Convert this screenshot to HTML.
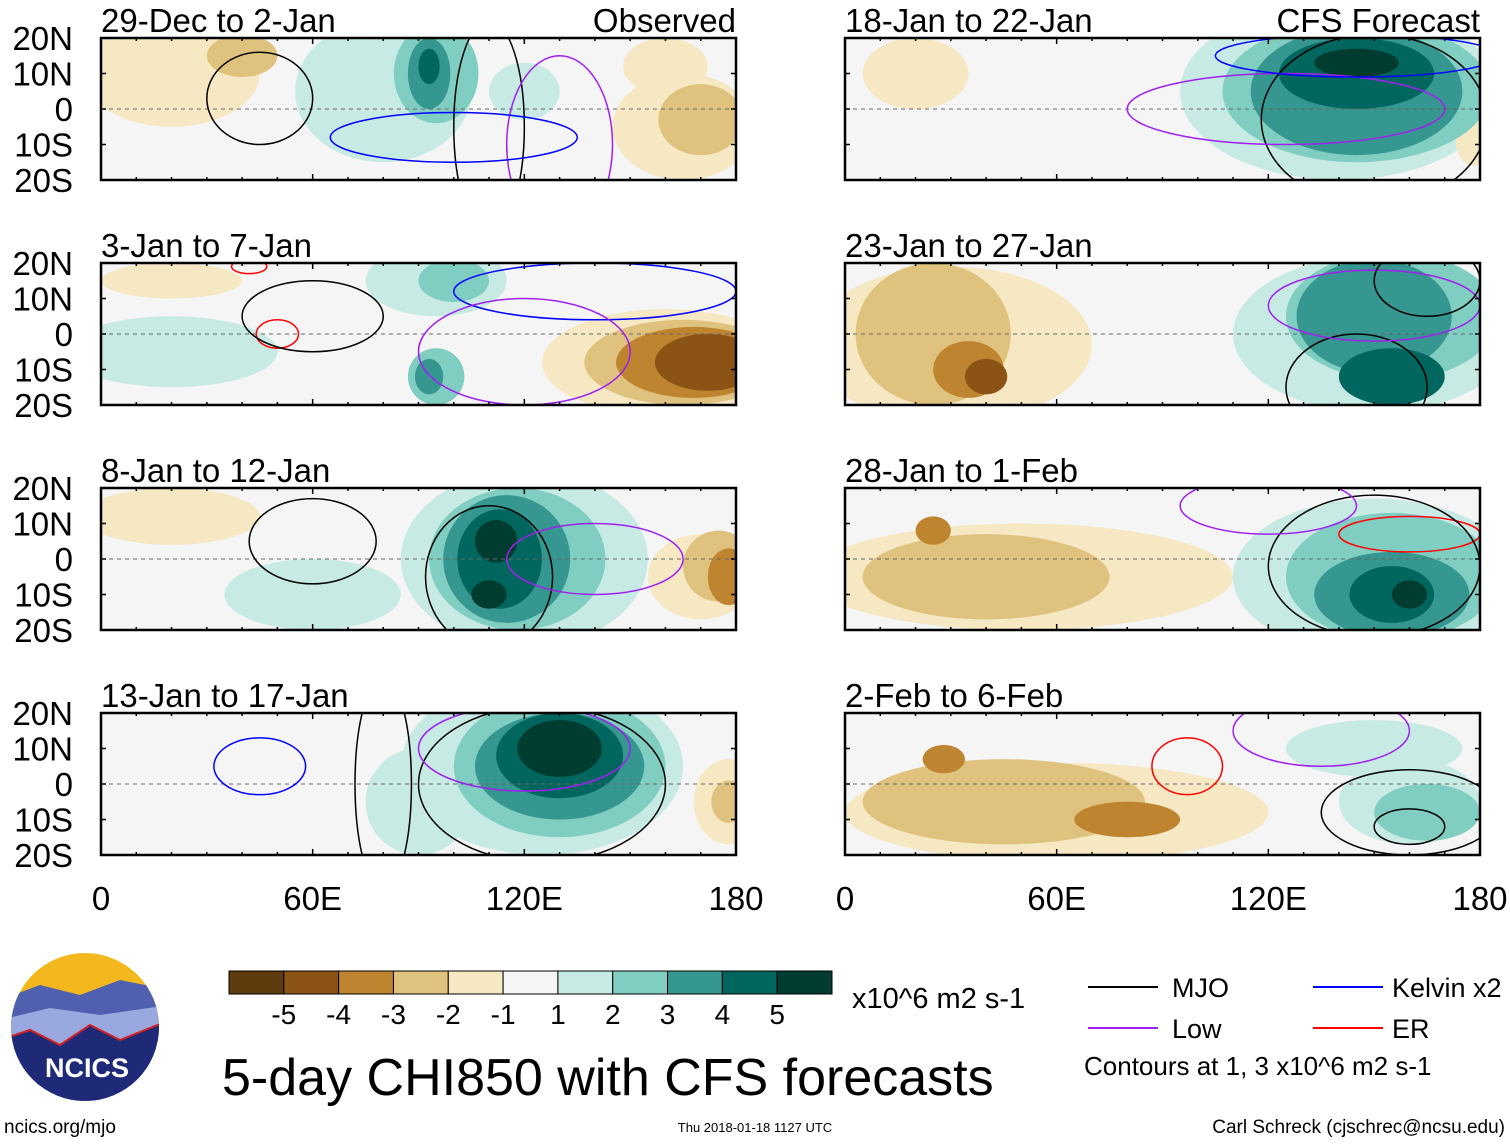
<!DOCTYPE html>
<html><head><meta charset="utf-8">
<style>
body{margin:0;background:#fff;width:1510px;height:1142px;overflow:hidden;font-family:"Liberation Sans",sans-serif}
svg text{font-family:"Liberation Sans",sans-serif}
</style></head>
<body>
<svg id="chart" width="1510" height="1142" xmlns="http://www.w3.org/2000/svg"></svg>
<script>
const titles=["29-Dec to 2-Jan","18-Jan to 22-Jan","3-Jan to 7-Jan","23-Jan to 27-Jan","8-Jan to 12-Jan","28-Jan to 1-Feb","13-Jan to 17-Jan","2-Feb to 6-Feb"];
const levels=[-5,-4,-3,-2,-1,0,1,2,3,4,5];
const levelColors=["#5e3c0e","#8c5414","#bf8430","#dfc27d","#f6e8c3","#f5f5f5","#c7eae5","#80cdc1","#35978f","#01665e","#003c30"];
const colorbarLabels=["-5","-4","-3","-2","-1","1","2","3","4","5"];
const xTicks=[0,60,120,180];
const xTickLabels=["0","60E","120E","180"];
const yTicks=[20,10,0,-10,-20];
const yTickLabels=["20N","10N","0","10S","20S"];
// blobs: [lon, lat, rlon, rlat, level]
const blobs0=[[20,10,25,15,-1],[40,15,10,6,-2],[80,5,25,20,1],[95,10,12,14,2],[93,10,6,10,3],[93,12,3,5,4],[120,5,10,8,1],[165,-5,20,15,-1],[170,-3,12,10,-2],[160,12,12,8,-1]];
const blobs1=[[140,5,45,25,1],[145,5,38,20,2],[145,5,30,18,3],[145,10,22,10,4],[145,13,12,4,5],[20,10,15,10,-1],[178,-8,5,8,-1]];
const blobs2=[[95,15,20,10,1],[100,15,10,6,2],[95,-12,8,8,2],[93,-12,4,5,3],[20,-5,30,10,1],[160,-8,35,15,-1],[165,-8,28,12,-2],[168,-8,22,10,-3],[172,-8,15,8,-4],[20,15,20,5,-1]];
const blobs3=[[30,-3,40,22,-1],[25,0,22,20,-2],[35,-10,10,8,-3],[40,-12,6,5,-4],[150,0,40,22,1],[155,5,30,18,2],[150,5,22,16,3],[155,-12,15,8,4]];
const blobs4=[[20,12,25,8,-1],[120,0,35,25,1],[118,0,25,20,2],[115,0,18,18,3],[113,0,12,14,4],[112,5,6,6,5],[110,-10,5,4,5],[170,-5,15,12,-1],[175,-2,10,10,-2],[178,-5,6,8,-3],[60,-10,25,10,1]];
const blobs5=[[50,-5,60,15,-1],[40,-5,35,12,-2],[25,8,5,4,-3],[150,-5,40,22,1],[155,-5,30,18,2],[155,-10,22,12,3],[155,-10,12,8,4],[160,-10,5,4,5]];
const blobs6=[[125,5,40,25,1],[130,5,30,20,2],[130,5,24,15,3],[130,8,18,12,4],[130,10,12,8,5],[178,-5,10,12,-1],[178,-5,5,6,-2],[90,-5,15,15,1]];
const blobs7=[[60,-8,60,14,-1],[45,-5,40,12,-2],[80,-10,15,5,-3],[28,7,6,4,-3],[150,10,25,8,1],[160,-5,20,12,1],[165,-8,15,8,2]];
// contours: [type, lon, lat, rlon, rlat]
const cont0=[["m",45,3,15,13],["m",110,-5,10,30],["l",130,-10,15,25],["k",100,-8,35,7]];
const cont1=[["m",150,-3,32,24],["l",125,0,45,10],["k",145,15,40,6]];
const cont2=[["e",50,0,6,4],["e",42,19,5,2],["m",60,5,20,10],["k",140,12,40,8],["l",120,-5,30,15]];
const cont3=[["m",145,-15,20,15],["l",150,8,30,10],["m",165,15,15,10]];
const cont4=[["m",110,-5,18,20],["m",60,5,18,12],["l",140,0,25,10]];
const cont5=[["e",160,7,20,5],["m",150,-2,30,20],["l",120,15,25,8]];
const cont6=[["k",45,5,13,8],["m",125,0,35,22],["l",120,10,30,12],["m",80,0,8,30]];
const cont7=[["e",97,5,10,8],["l",135,15,25,10],["m",160,-8,25,12],["m",160,-12,10,5]];
const allBlobs=[blobs0,blobs1,blobs2,blobs3,blobs4,blobs5,blobs6,blobs7];
const allCont=[cont0,cont1,cont2,cont3,cont4,cont5,cont6,cont7];
const contColors={m:"#000",l:"#a020f0",k:"#0000ff",e:"#ff0000"};

const NS="http://www.w3.org/2000/svg";
const svg=document.getElementById('chart');
function mk(tag,attrs,parent){const e=document.createElementNS(NS,tag);for(const k in attrs)e.setAttribute(k,attrs[k]);(parent||svg).appendChild(e);return e;}
const PW=635,PH=142;
const colX=[101,845],rowY=[38,263,488,713];
for(let p=0;p<8;p++){
  const x0=colX[p%2],y0=rowY[Math.floor(p/2)];
  const xs=lon=>x0+lon*PW/180, ys=lat=>y0+(20-lat)*PH/40;
  const g=mk('g',{});
  
  
  mk('clipPath',{id:'c'+p},g);
  mk('rect',{x:x0,y:y0,width:PW,height:PH},g.lastChild);
  mk('rect',{x:x0,y:y0,width:PW,height:PH,fill:levelColors[5]},g);
  const inner=mk('g',{'clip-path':'url(#c'+p+')'},g);
  const sorted=allBlobs[p].slice().sort((a,b)=>Math.abs(a[4])-Math.abs(b[4]));
  sorted.forEach(b=>{
    const e=mk('ellipse',{cx:xs(b[0]),cy:ys(b[1]),rx:b[2]*PW/180,ry:b[3]*PH/40,fill:levelColors[levels.indexOf(b[4])]},inner);
    
    
  });
  mk('line',{x1:x0,x2:x0+PW,y1:ys(0),y2:ys(0),stroke:'#666','stroke-dasharray':'4,4','stroke-width':1},inner);
  allCont[p].forEach(c=>{
    const e=mk('ellipse',{cx:xs(c[1]),cy:ys(c[2]),rx:c[3]*PW/180,ry:c[4]*PH/40,fill:'none',stroke:contColors[c[0]],'stroke-width':1.5},inner);
    
    
  });
  mk('rect',{x:x0,y:y0,width:PW,height:PH,fill:'none',stroke:'#000','stroke-width':2.5},g);
  for(let lon=0;lon<=180;lon+=10){const t=lon%60==0?6:3;mk('line',{x1:xs(lon),x2:xs(lon),y1:y0,y2:y0+t,stroke:'#000','stroke-width':1.5},g);mk('line',{x1:xs(lon),x2:xs(lon),y1:y0+PH,y2:y0+PH-t,stroke:'#000','stroke-width':1.5},g);}
  for(let lat=-20;lat<=20;lat+=10){mk('line',{x1:x0,x2:x0+5,y1:ys(lat),y2:ys(lat),stroke:'#000','stroke-width':1.5},g);mk('line',{x1:x0+PW,x2:x0+PW-5,y1:ys(lat),y2:ys(lat),stroke:'#000','stroke-width':1.5},g);}
  const t=mk('text',{x:x0,y:y0-6,'font-size':33},g);t.textContent=titles[p];
  
  if(p<2){const r=mk('text',{x:x0+PW,y:y0-6,'font-size':33,'text-anchor':'end'},g);r.textContent=p==0?"Observed":"CFS Forecast";}
  if(p%2==0){yTicks.forEach((lat,i)=>{const l=mk('text',{x:73,y:ys(lat)+12,'font-size':33,'text-anchor':'end'},g);l.textContent=yTickLabels[i];});}
  if(p>=6){xTicks.forEach((lon,i)=>{const l=mk('text',{x:xs(lon),y:910,'font-size':33,'text-anchor':'middle'},g);l.textContent=xTickLabels[i];});}
}
// colorbar
const cb=mk('g',{});
const bw=603/11;
levelColors.forEach((c,i)=>mk('rect',{x:229+i*bw,y:971,width:bw,height:23,fill:c,stroke:'#000','stroke-width':1},cb));
colorbarLabels.forEach((s,i)=>{const t=mk('text',{x:229+(i+1)*bw,y:1024,'font-size':28,'text-anchor':'middle'},cb);t.textContent=s;});
const u=mk('text',{x:852,y:1008,'font-size':29},cb);u.textContent="x10^6 m2 s-1";
// legend
const lg=mk('g',{});
[["MJO","#000",1088,1172,987],["Low","#a020f0",1088,1172,1028],["Kelvin x2","#0000ff",1313,1392,987],["ER","#ff0000",1313,1392,1028]].forEach(a=>{
  mk('line',{x1:a[2],x2:a[2]+70,y1:a[4],y2:a[4],stroke:a[1],'stroke-width':2},lg);
  const t=mk('text',{x:a[3],y:a[4]+10,'font-size':27},lg);t.textContent=a[0];
});
const ct=mk('text',{x:1084,y:1075,'font-size':26},lg);ct.textContent="Contours at 1, 3 x10^6 m2 s-1";
// logo
const lo=mk('g',{});
mk('clipPath',{id:'lc'},lo);mk('circle',{cx:85,cy:1027,r:74},lo.lastChild);
const li=mk('g',{'clip-path':'url(#lc)'},lo);
mk('rect',{x:0,y:950,width:170,height:60,fill:'#f2b81d'},li);
mk('path',{d:'M0 1000 L40 985 L80 995 L120 980 L170 990 L170 1110 L0 1110Z',fill:'#5060b0'},li);
mk('path',{d:'M0 1020 L50 1008 L100 1015 L170 1005 L170 1110 L0 1110Z',fill:'#9aa8e0'},li);
mk('path',{d:'M0 1040 L30 1030 L60 1045 L90 1025 L120 1040 L170 1020 L170 1110 L0 1110Z',fill:'#1e2a78',stroke:'#d02020','stroke-width':2},li);
const nt=mk('text',{x:87,y:1077,'font-size':27,'font-weight':'bold',fill:'#fff','text-anchor':'middle'},lo);nt.textContent="NCICS";
// titles & footer
const mt=mk('text',{x:222,y:1095,'font-size':52},svg);mt.textContent="5-day CHI850 with CFS forecasts";

const f1=mk('text',{x:4,y:1133,'font-size':19});f1.textContent="ncics.org/mjo";

const f2=mk('text',{x:755,y:1132,'font-size':13,'text-anchor':'middle'});f2.textContent="Thu 2018-01-18 1127 UTC";

const f3=mk('text',{x:1505,y:1133,'font-size':19,'text-anchor':'end'});f3.textContent="Carl Schreck (cjschrec@ncsu.edu)";

</script>
</body></html>
